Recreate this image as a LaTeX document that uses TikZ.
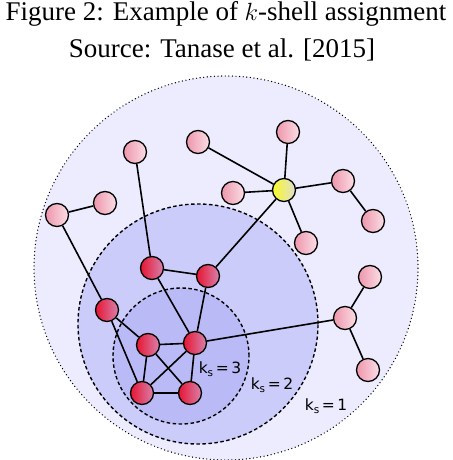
\documentclass[tikz,border=0pt]{standalone}
\usepackage{fontspec}
\setmainfont{Liberation Serif}
\newfontfamily\labelfont{DejaVu Sans}
\usepackage{tikz}
\usetikzlibrary{backgrounds}
\definecolor{shellone}{RGB}{236,236,254}
\definecolor{shelltwo}{RGB}{204,204,250}
\definecolor{shellthree}{RGB}{186,186,246}
\tikzset{
  vertex/.style  = {circle, draw, line width=1.3pt, minimum size=23pt,
                    inner sep=0pt},
  pinknode/.style   = {vertex, left color={rgb,255:red,238;green,150;blue,172},
                       right color={rgb,255:red,250;green,222;blue,230}},
  rednode/.style    = {vertex, left color={rgb,255:red,232;green,20;blue,50},
                       right color={rgb,255:red,214;green,130;blue,172}},
  yellownode/.style = {vertex, left color={rgb,255:red,250;green,250;blue,40},
                       right color={rgb,255:red,222;green,222;blue,205}},
  link/.style    = {-, line width=1.6pt, black},
  shell/.style   = {line width=1.4pt},
  caption/.style = {font=\fontsize{27}{32}\selectfont, anchor=base},
  shelllabel/.style = {font=\labelfont\fontsize{15.5}{18}\selectfont},
}
\newcommand{\kshell}[1]{k\raisebox{-0.4ex}{\fontsize{10.5}{12}\selectfont s}\,=\,#1}

\begin{document}
\begin{tikzpicture}[x=1pt, y=-1pt]
    \useasboundingbox (0,0) rectangle (452,460);
    % --- caption ------------------------------------------------------
    \node[caption] (title) at (226,21) {Figure 2: Example of $k$-shell assignment};
    \node[caption] (source) at (222,57) {Source: Tanase et al. [2015]};
    % --- shells -------------------------------------------------------
    \begin{scope}[on background layer]
      \fill[shellone] (226,268) circle (192pt);
      \draw[shell, line cap=round, dash pattern=on 0pt off 3.6pt] (226,268) circle (192pt);
      \filldraw[shell, fill=shelltwo, dash pattern=on 3.5pt off 2.5pt] (198,324) circle (120pt);
      \filldraw[shell, fill=shellthree, dash pattern=on 3.5pt off 2.5pt] (181,356) circle (68pt);
    \end{scope}
    % --- outer vertices -----------------------------------------------
    \node[pinknode] (top1) at (135,152) {};
    \node[pinknode] (top2) at (198,142) {};
    \node[pinknode] (lf1)  at (105,203) {};
    \node[pinknode] (lf2)  at (57,215)  {};
    \node[yellownode] (hub) at (284,190) {};
    \node[pinknode] (st1)  at (288,132) {};
    \node[pinknode] (st2)  at (233,193) {};
    \node[pinknode] (st3)  at (343,181) {};
    \node[pinknode] (st4)  at (373,221) {};
    \node[pinknode] (st5)  at (306,243) {};
    \node[pinknode] (rt1)  at (345,318) {};
    \node[pinknode] (rt2)  at (370,277) {};
    \node[pinknode] (rt3)  at (368,370) {};
    % --- 2-shell ------------------------------------------------------
    \node[rednode] (mid1) at (152,268) {};
    \node[rednode] (mid2) at (208,276) {};
    \node[rednode] (mid3) at (107,310) {};
    % --- 3-core -------------------------------------------------------
    \node[rednode] (core1) at (148,345) {};
    \node[rednode] (core2) at (195,343) {};
    \node[rednode] (core3) at (142,393) {};
    \node[rednode] (core4) at (190,393) {};
    % --- labels -------------------------------------------------------
    \node[shelllabel] (k3) at (220,369) {\kshell{3}};
    \node[shelllabel] (k2) at (272,385) {\kshell{2}};
    \node[shelllabel] (k1) at (326,406) {\kshell{1}};
    % --- edges --------------------------------------------------------
    \begin{scope}[on background layer]
      \draw[link] (top1) -- (mid1);
      \draw[link] (top2) -- (hub);
      \draw[link] (lf1)  -- (lf2);
      \draw[link] (lf2)  -- (mid3);
      \draw[link] (hub)  -- (st1);
      \draw[link] (hub)  -- (st2);
      \draw[link] (hub)  -- (st3);
      \draw[link] (hub)  -- (st5);
      \draw[link] (hub)  -- (mid2);
      \draw[link] (st3)  -- (st4);
      \draw[link] (mid1) -- (mid2);
      \draw[link] (mid1) -- (core2);
      \draw[link] (mid2) -- (core2);
      \draw[link] (mid3) -- (core1);
      \draw[link] (mid3) -- (core3);
      \draw[link] (core1) -- (core2);
      \draw[link] (core1) -- (core3);
      \draw[link] (core1) -- (core4);
      \draw[link] (core2) -- (core3);
      \draw[link] (core2) -- (core4);
      \draw[link] (core3) -- (core4);
      \draw[link] (core2) -- (rt1);
      \draw[link] (rt1)  -- (rt2);
      \draw[link] (rt1)  -- (rt3);
    \end{scope}
  \end{tikzpicture}
\end{document}
